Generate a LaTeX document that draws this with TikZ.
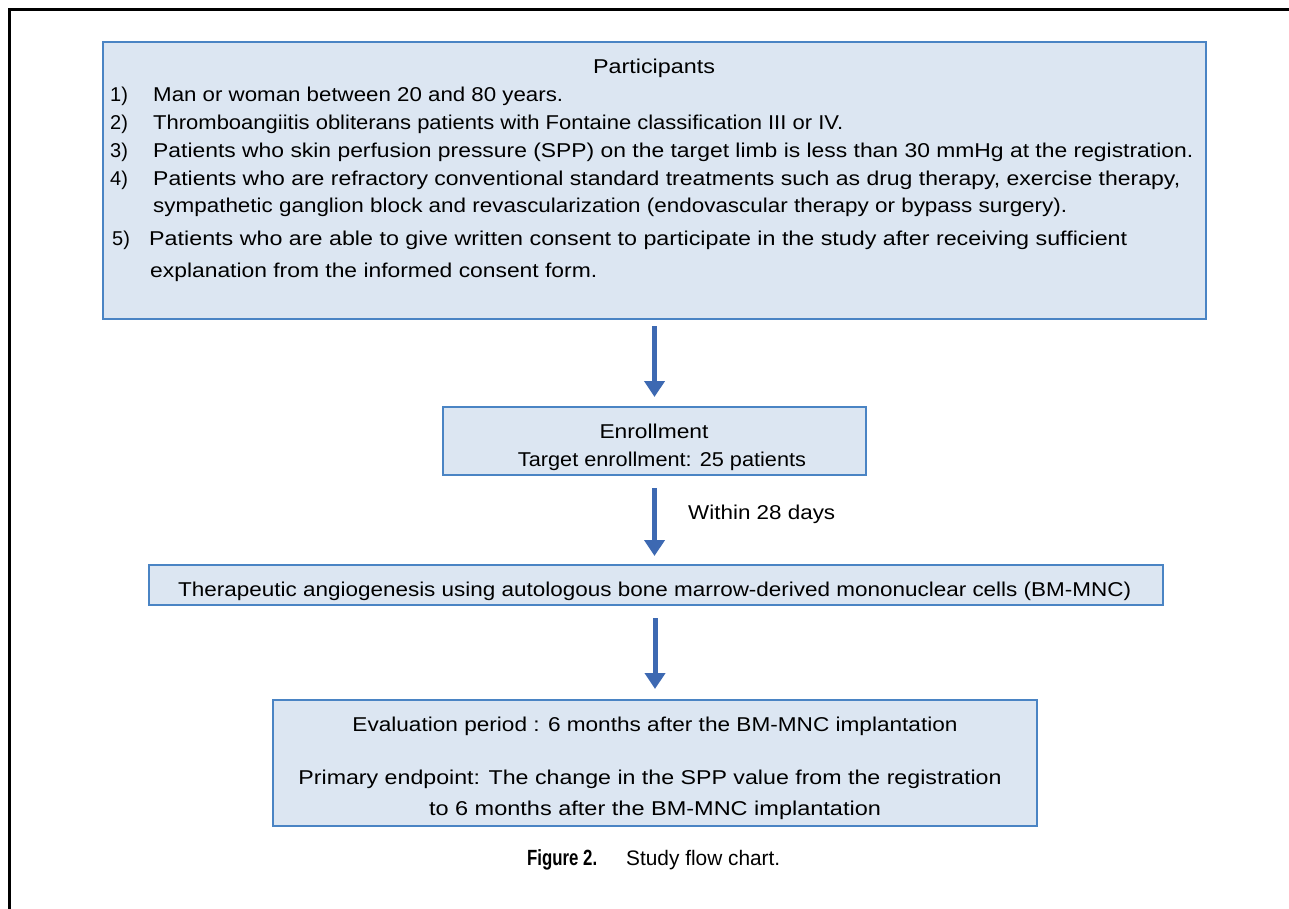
\documentclass[tikz,border=0pt]{standalone}
\usepackage{fontspec}
\setmainfont{Liberation Sans}
\usepackage{graphicx}
\usetikzlibrary{arrows.meta}
\definecolor{boxfill}{HTML}{DCE6F2}
\definecolor{boxdraw}{HTML}{4A84C4}
\definecolor{arr}{HTML}{3D69B2}
\newcommand\fw[2]{\resizebox{#1pt}{\height}{#2}}
\begin{document}
\begin{tikzpicture}[x=1pt,y=-1pt,
  box/.style={draw=boxdraw,fill=boxfill,line width=2pt,inner sep=0},
  txt/.style={inner sep=0,anchor=base west,font=\fontsize{20}{24}\selectfont},
  ctxt/.style={inner sep=0,anchor=base,font=\fontsize{20}{24}\selectfont},
  flow/.style={draw=arr,line width=5pt,-{Triangle[width=20pt,length=16pt]}}]
\useasboundingbox (0,0) rectangle (1289,909);
\draw[line width=3pt] (1289,9.5) -- (9.5,9.5) -- (9.5,909);
% boxes
\node[box,minimum width=1103pt,minimum height=277pt] (part) at (654.5,180.5) {};
\node[box,minimum width=423pt,minimum height=68pt] (enroll) at (654.5,441) {};
\node[box,minimum width=1014pt,minimum height=40pt] (ther) at (656,585) {};
\node[box,minimum width=764pt,minimum height=126pt] (eval) at (655,763) {};
% participants text
\node[ctxt] (ptitle) at (654,74) {\fw{122}{Participants}};
\node[txt] (n1) at (110,102) {1)};
\node[txt] (t1) at (153,102) {\fw{410}{Man or woman between 20 and 80 years.}};
\node[txt] (n2) at (110,130) {2)};
\node[txt] (t2) at (153,130) {\fw{690}{Thromboangiitis obliterans patients with Fontaine classification III or IV.}};
\node[txt] (n3) at (110,158) {3)};
\node[txt] (t3) at (153,158) {\fw{1040}{Patients who skin perfusion pressure (SPP) on the target limb is less than 30 mmHg at the registration.}};
\node[txt] (n4) at (110,186) {4)};
\node[txt] (t4) at (153,186) {\fw{1027}{Patients who are refractory conventional standard treatments such as drug therapy, exercise therapy,}};
\node[txt] (t4b) at (153,213) {\fw{914}{sympathetic ganglion block and revascularization (endovascular therapy or bypass surgery).}};
\node[txt] (n5) at (112,245) {5)};
\node[txt] (t5) at (149,245) {\fw{978}{Patients who are able to give written consent to participate in the study after receiving sufficient}};
\node[txt] (t5b) at (150,277) {\fw{447}{explanation from the informed consent form.}};
% enrollment
\node[ctxt] (e1) at (654,438) {\fw{109}{Enrollment}};
\node[ctxt] (e2) at (662,466) {\fw{288}{Target enrollment: 25 patients}};
\node[txt] (w28) at (688,519) {\fw{147}{Within 28 days}};
% therapy
\node[txt] (th) at (178,596) {\fw{953}{Therapeutic angiogenesis using autologous bone marrow-derived mononuclear cells (BM-MNC)}};
% evaluation
\node[ctxt] (ev1) at (655,731) {\fw{605}{Evaluation period : 6 months after the BM-MNC implantation}};
\node[ctxt] (ev2) at (650,784) {\fw{703}{Primary endpoint: The change in the SPP value from the registration}};
\node[ctxt] (ev3) at (655,815) {\fw{452}{to 6 months after the BM-MNC implantation}};
% arrows
\draw[flow] ([yshift=-6pt]part.south) -- ([yshift=9pt]enroll.north);
\draw[flow] ([yshift=-12pt]enroll.south) -- ([yshift=8pt]ther.north -| enroll.south);
\draw[flow] ([yshift=-12pt]ther.south -| eval.north) -- ([yshift=10pt]eval.north);
% caption
\node[txt] (figlab) at (527,865) {\fw{70}{\fontsize{22}{26}\selectfont\bfseries Figure 2.}};
\node[txt] (figcap) at (626,865) {\fw{154}{\fontsize{21}{25}\selectfont Study flow chart.}};
\end{tikzpicture}
\end{document}
